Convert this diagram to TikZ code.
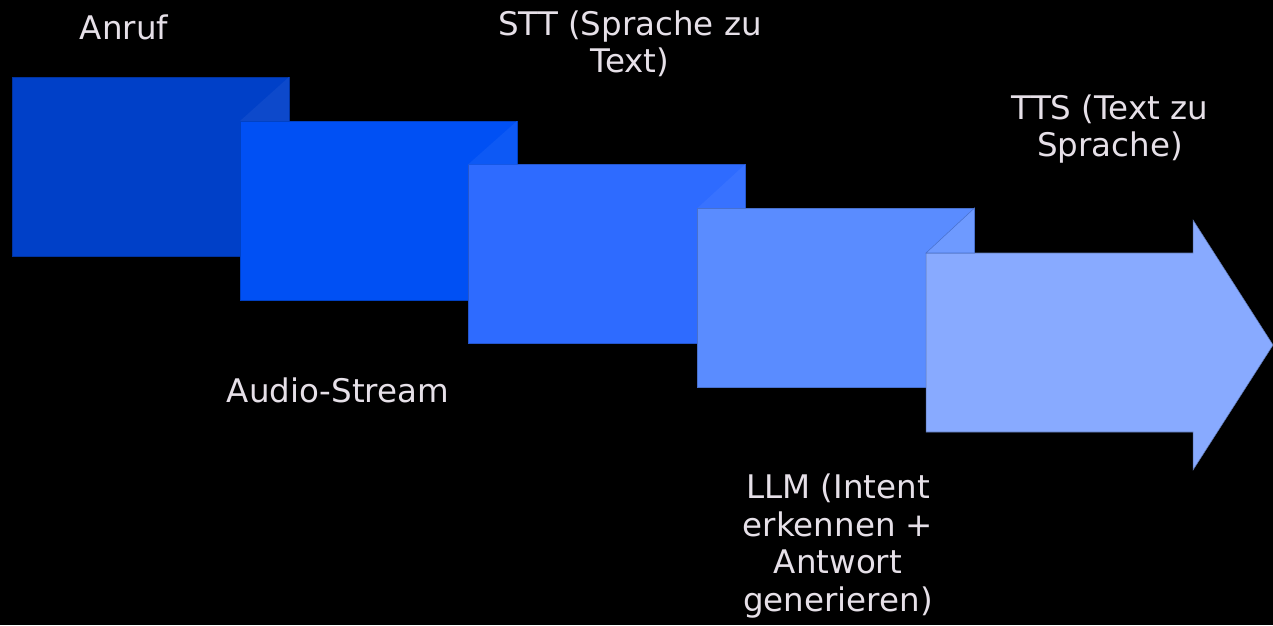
\documentclass[tikz,border=0pt]{standalone}
\usepackage{fontspec}
\setmainfont{DejaVu Sans}
\definecolor{stepa}{HTML}{0040C8}
\definecolor{stepb}{HTML}{0050F4}
\definecolor{stepc}{HTML}{2E6BFF}
\definecolor{stepd}{HTML}{5A8CFF}
\definecolor{stepe}{HTML}{88AAFF}
\definecolor{labeltext}{HTML}{E6E0E8}
\tikzset{
  block/.style={rectangle, minimum width=5.54cm, minimum height=3.58cm,
    inner sep=0pt, outer sep=0pt, draw=#1!80!black, line width=0.3pt, fill=#1},
  fold/.style={fill=#1!88!white, draw=#1!80!black, line width=0.3pt},
  caption/.style={text=labeltext, align=center,
    font=\fontsize{18.5}{21.3}\selectfont}
}
\begin{document}
\begin{tikzpicture}[x=0.02cm, y=-0.02cm]
\fill[black] (0,0) rectangle (1273,625);
\useasboundingbox (0,0) rectangle (1273,625);

\node[block=stepa] (b1) at (150.5,166.5) {};
\node[block=stepb] (b2) at (378.5,210.5) {};
\node[block=stepc] (b3) at (606.5,254) {};
\node[block=stepd] (b4) at (836,297.5) {};

% folded corners
\foreach \cur/\nxt/\col in {b1/b2/stepa,b2/b3/stepb,b3/b4/stepc}
{
	\fill[\col!95!white] (\cur.north east) -- (\cur.north east |- \nxt.north) -- (\nxt.north west) -- cycle;
}

% last step as arrow
\filldraw[fill=stepe, draw=stepe!70!black, line width=0.3pt]
  (926,253) coordinate (a1) -- (1193,253) -- (1193,220) -- (1273,345) coordinate (tip)
  -- (1193,470) -- (1193,432) -- (926,432) -- cycle;
\filldraw[fold=stepd] (b4.north east) -- (b4.north east |- a1) -- (a1) -- cycle;

\node[caption] (anruf) at (124,27) {Anruf};
\node[caption] (stt) at (630,44) {STT (Sprache zu\\Text)};
\node[caption] (tts) at (1110,129) {TTS (Text zu\\Sprache)};
\node[caption] (audio) at (338,390) {Audio-Stream};
\node[caption] (llm) at (838,546) {LLM (Intent\\erkennen +\\Antwort\\generieren)};

\end{tikzpicture}
\end{document}
